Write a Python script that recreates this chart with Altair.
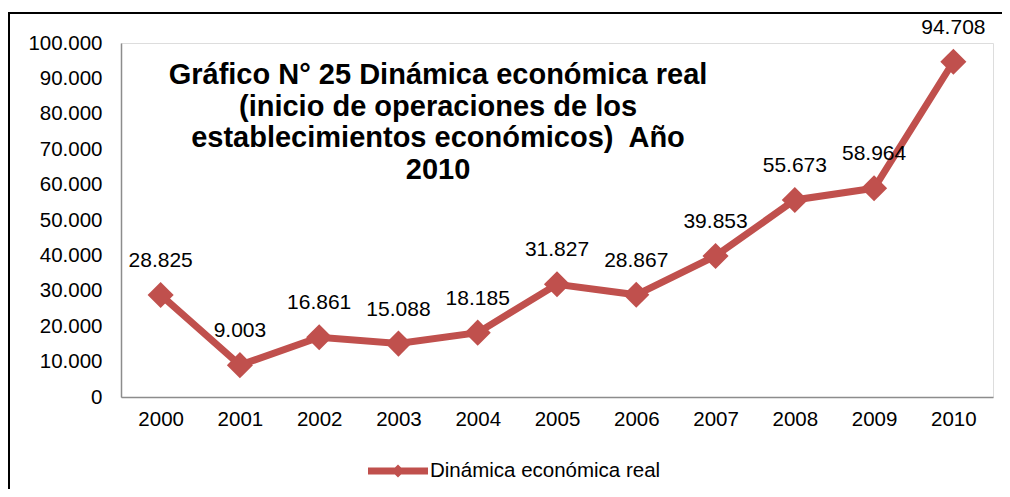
import altair as alt
import pandas as pd

years = ["2000", "2001", "2002", "2003", "2004", "2005", "2006", "2007", "2008", "2009", "2010"]
values = [28825, 9003, 16861, 15088, 18185, 31827, 28867, 39853, 55673, 58964, 94708]
series_name = "Dinámica económica real"
title_lines = ["Gráfico N° 25 Dinámica económica real",
               "(inicio de operaciones de los",
               "establecimientos económicos)\u00a0 Año",
               "2010"]

df = pd.DataFrame({
    "year": years,
    "value": values,
    "label": [f"{v:,}".replace(",", ".") for v in values],
    "serie": [series_name] * len(years),
})

RED = "#C0504D"
FONT = "Liberation Sans"

x_enc = alt.X("year:N", sort=years, title=None,
              scale=alt.Scale(paddingInner=1, paddingOuter=0.5),
              axis=alt.Axis(labelAngle=0, ticks=False, labelPadding=12,
                            domainColor="#8c8c8c", domainWidth=1.5,
                            labelFontSize=20.5, labelColor="#000000", labelFont=FONT))
y_enc = alt.Y("value:Q", title=None,
              scale=alt.Scale(domain=[0, 100000], nice=False),
              axis=alt.Axis(values=list(range(0, 100001, 10000)), grid=False, ticks=False,
                            labelPadding=19, domainColor="#8c8c8c", domainWidth=1.5,
                            labelFontSize=20.5, labelColor="#000000", labelFont=FONT,
                            labelExpr="replace(format(datum.value, ','), regexp(',', 'g'), '.')"))

base = alt.Chart(df)

line = base.mark_line(strokeWidth=7, color=RED).encode(
    x=x_enc, y=y_enc,
    color=alt.Color("serie:N", scale=alt.Scale(domain=[series_name], range=[RED]),
                    legend=alt.Legend(title=None, orient="none", legendX=247, legendY=398,
                                      symbolType="M-1,-0.12L1,-0.12L1,0.12L-1,0.12Z M0,-0.22L0.22,0L0,0.22L-0.22,0Z",
                                      symbolSize=3600, symbolFillColor=RED, symbolStrokeWidth=0,
                                      symbolOpacity=1, labelLimit=500,
                                      labelFontSize=20.5, labelFont=FONT, labelColor="#000000",
                                      labelOffset=2)),
)

points = base.mark_point(shape="diamond", size=680, filled=True, color=RED, opacity=1).encode(
    x=x_enc, y=y_enc,
)

labels = base.mark_text(fontSize=21, font=FONT, color="#000000", dy=-28, baseline="alphabetic").encode(
    x=x_enc, y=y_enc, text="label:N",
)

title = alt.Chart(pd.DataFrame({"t": ["\n".join(title_lines)]})).mark_text(
    fontSize=29, font=FONT, fontWeight="bold", color="#000000",
    lineBreak="\n", lineHeight=31.5, align="center", baseline="alphabetic",
).encode(x=alt.value(317), y=alt.value(41), text="t:N")

frame = alt.Chart(pd.DataFrame({"a": [0]})).mark_rect(
    fill=None, stroke="#000000", strokeWidth=2, clip=False,
).encode(x=alt.value(-112), x2=alt.value(1000), y=alt.value(-30), y2=alt.value(600))

chart = alt.layer(frame, line, points, labels, title).properties(
    width=872, height=354,
    autosize=alt.AutoSizeParams(type="none"),
    padding={"left": 113, "top": 35, "right": 9, "bottom": 92},
).configure_view(stroke=None).configure(background="#ffffff")

chart.save("out.html", embed_options={"renderer": "svg", "actions": False})
